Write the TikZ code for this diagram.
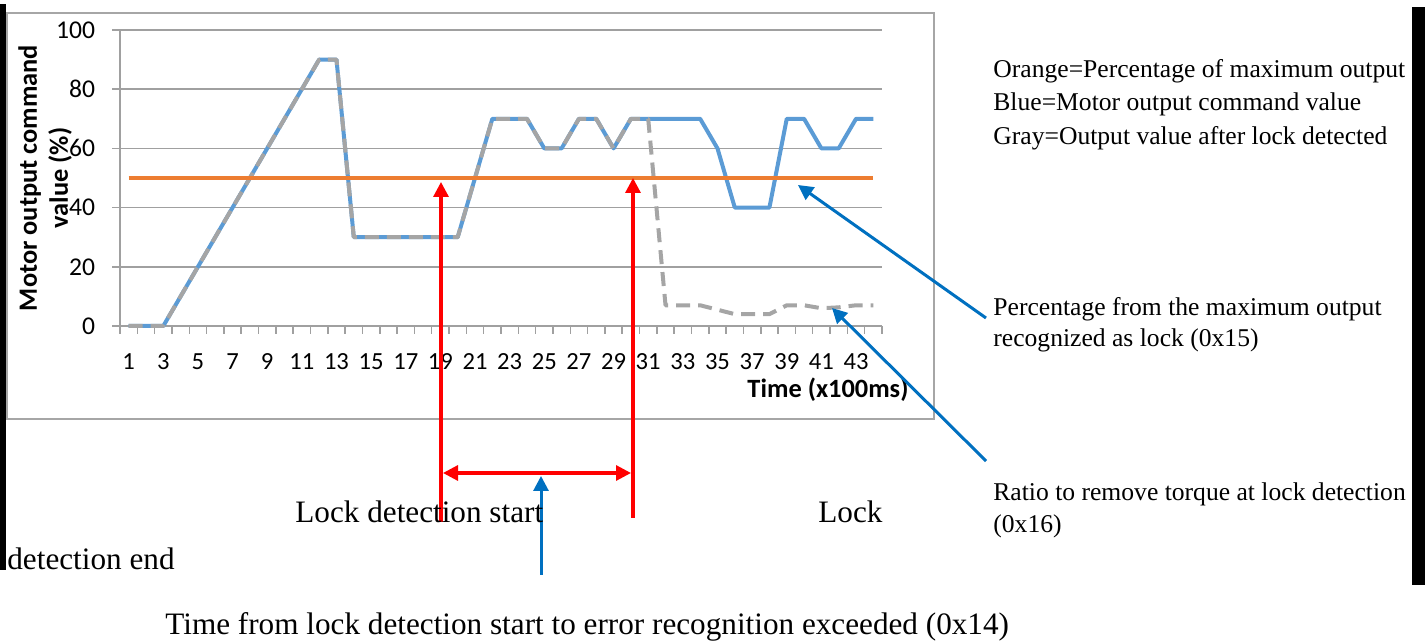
\documentclass[tikz,border=0pt]{standalone}
\usepackage{fontspec}
\setmainfont{Liberation Serif}
\newfontfamily\chartfont{Carlito}
\usetikzlibrary{arrows.meta}
\definecolor{cblue}{HTML}{5B9BD5}
\definecolor{cgray}{HTML}{A5A5A5}
\definecolor{corange}{HTML}{ED7D31}
\definecolor{gridgray}{HTML}{A0A0A0}
\definecolor{framegray}{HTML}{A6A6A6}
\definecolor{arrowblue}{HTML}{0070C0}
\definecolor{cred}{HTML}{FF0000}
\tikzset{
  gridline/.style={draw=gridgray, line width=0.75pt},
  serieslinE/.style={line width=2pt, line join=round},
  ylab/.style={font=\chartfont\fontsize{12.8}{14}\selectfont, anchor=east, inner sep=0pt},
  xlab/.style={font=\chartfont\fontsize{12.3}{14}\selectfont, anchor=center, inner sep=0pt},
  titlefont/.style={font=\chartfont\bfseries\fontsize{13.2}{15.5}\selectfont, inner sep=0pt},
  note/.style={font=\fontsize{12.8}{15}\selectfont, anchor=base west, inner sep=0pt},
  bignote/.style={font=\fontsize{15.6}{18}\selectfont, anchor=base west, inner sep=0pt},
  redarrow/.style={draw=cred, line width=1.6pt, -{Triangle[length=7.5pt,width=7.5pt]}},
  redboth/.style={draw=cred, line width=1.6pt, {Triangle[length=7.5pt,width=7.5pt]}-{Triangle[length=7.5pt,width=7.5pt]}},
  bluearrow/.style={draw=arrowblue, line width=1.5pt, -{Triangle[length=7.5pt,width=7.5pt]}}
}
\begin{document}
\begin{tikzpicture}[x=0.5pt,y=-0.5pt]
\useasboundingbox (0,0) rectangle (1425,641);
% page edge bars
\fill[black] (0,4) rectangle (6,570);
\fill[black] (1412,7) rectangle (1425,585);
% chart frame
\draw[draw=framegray, line width=0.75pt] (7,13) rectangle (934,419);
% gridlines
\foreach \v in {20,40,60,80,100}
  \draw[gridline] (112,{326-\v*2.96}) -- (882,{326-\v*2.96});
% axes
\draw[gridline] (120,30) -- (120,334);
\draw[gridline] (112,326) -- (882,326);
\foreach \k in {0,...,44}
  \draw[gridline] ({120+\k*17.318},326) -- ++(0,8);
% y labels
\foreach \v in {0,20,40,60,80,100}
  \node[ylab, name=yl\v] at (95.5,{326-\v*2.96}) {\v};
% x labels
\foreach \i in {1,3,...,43}
  \node[xlab, name=xl\i] at ({120+(\i-0.5)*17.318},362) {\i};
\node[titlefont, align=center, rotate=90] (ytitle) at (45,178) {Motor output command\\value (\%)};
\node[titlefont, anchor=center] (xtitle) at (828,390) {Time (x100ms)};
% series
\begin{scope}[shift={(111.341,326)}]
\begin{scope}[x=8.659pt,y=1.48pt]
\draw[serieslinE, cblue] plot coordinates {(1,0)(2,0)(3,0)(4,10)(5,20)(6,30)(7,40)(8,50)(9,60)(10,70)(11,80)(12,90)(13,90)(14,30)(15,30)(16,30)(17,30)(18,30)(19,30)(20,30)(21,50)(22,70)(23,70)(24,70)(25,60)(26,60)(27,70)(28,70)(29,60)(30,70)(31,70)(32,70)(33,70)(34,70)(35,60)(36,40)(37,40)(38,40)(39,70)(40,70)(41,60)(42,60)(43,70)(44,70)};
\draw[serieslinE, cgray, dash pattern=on 7pt off 4pt] plot coordinates {(1,0)(2,0)(3,0)(4,10)(5,20)(6,30)(7,40)(8,50)(9,60)(10,70)(11,80)(12,90)(13,90)(14,30)(15,30)(16,30)(17,30)(18,30)(19,30)(20,30)(21,50)(22,70)(23,70)(24,70)(25,60)(26,60)(27,70)(28,70)(29,60)(30,70)(31,70)(32,7)(33,7)(34,7)(35,5.5)(36,4)(37,4)(38,4)(39,7)(40,7)(41,6)(42,6.3)(43,7)(44,7)};
\draw[serieslinE, corange] (1,50) -- (44,50);
\end{scope}
\end{scope}
% red arrows
\coordinate (r1b) at (441,522); \coordinate (r1t) at (441,182);
\coordinate (r2b) at (633,518); \coordinate (r2t) at (633,178);
\coordinate (hl) at (443,473); \coordinate (hr) at (631,473);
\draw[redarrow] (r1b) -- (r1t);
\draw[redarrow] (r2b) -- (r2t);
\draw[redboth] (hl) -- (hr);
% blue arrows
\coordinate (b0s) at (541,575); \coordinate (b0t) at (541,476);
\coordinate (b1s) at (986,318); \coordinate (b1t) at (798,185);
\coordinate (b2s) at (986,461); \coordinate (b2t) at (832,308);
\draw[bluearrow] (b0s) -- (b0t);
\draw[bluearrow] (b1s) -- (b1t);
\draw[bluearrow] (b2s) -- (b2t);
% texts
\node[note] (leg1) at (993,78) {Orange=Percentage of maximum output};
\node[note] (leg2) at (993,111) {Blue=Motor output command value};
\node[note] (leg3) at (993,145) {Gray=Output value after lock detected};
\node[note] (p1) at (993,316) {Percentage from the maximum output};
\node[note] (p2) at (993,347) {recognized as lock (0x15)};
\node[note] (q1) at (993,501) {Ratio to remove torque at lock detection};
\node[note] (q2) at (993,532) {(0x16)};
\node[bignote] (lds) at (295,523) {Lock detection start};
\node[bignote] (lde1) at (818,523) {Lock};
\node[bignote] (lde2) at (7,569) {detection end};
\node[bignote] (tfl) at (165,634) {Time from lock detection start to error recognition exceeded (0x14)};
\end{tikzpicture}
\end{document}
